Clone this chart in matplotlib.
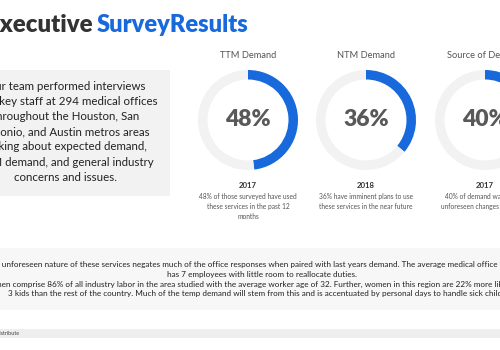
import matplotlib
matplotlib.use("Agg")
import matplotlib.pyplot as plt
from matplotlib.patches import Rectangle

plt.rcParams['font.family'] = ['Lato', 'DejaVu Sans']

# ---- data ----
title_dark = "Executive "
title_blue = "SurveyResults"
intro_lines = ["Our team performed interviews",
               "with key staff at 294 medical offices",
               "throughout the Houston, San",
               "Antonio, and Austin metros areas",
               "talking about expected demand,",
               "TTM demand, and general industry",
               "concerns and issues."]
donut_titles = ["TTM Demand", "NTM Demand", "Source of Demand"]
donut_values = [48, 36, 40]
donut_years = ["2017", "2018", "2017"]
donut_desc = [["48% of those surveyed have used", "these services in the past 12", "months"],
              ["36% have imminent plans to use", "these services in the near future"],
              ["40% of demand was due to", "unforeseen changes in staffing"]]
bottom_lines = ["The unforeseen nature of these services negates much of the office responses when paired with last years demand. The average medical office in this area",
                "has 7 employees with little room to reallocate duties.",
                "Women comprise 86% of all industry labor in the area studied with the average worker age of 32. Further, women in this region are 22% more likely to have",
                "3 kids than the rest of the country. Much of the temp demand will stem from this and is accentuated by personal days to handle sick children."]
footer = "Do Not Distribute"

W, H = 500, 350
fig = plt.figure(figsize=(5, 3.5), dpi=100)
fig.patch.set_facecolor('white')
ax = fig.add_axes([0, 0, 1, 1])
ax.set_xlim(0, W)
ax.set_ylim(H, 0)
ax.axis('off')

BLUE = '#1769dc'
GRAYBG = '#f2f2f2'

# title
t1 = ax.text(-14, 25, title_dark, fontsize=17.3, fontweight='heavy', color='#333333', va='center', ha='left')
fig.canvas.draw()
bb = t1.get_window_extent()
x_end = bb.x1
ax.text(x_end - 1, 25, title_blue, fontsize=17.0, fontweight='heavy', color=BLUE, va='center', ha='left')

# intro box
ax.add_patch(Rectangle((-5, 70), 175, 126, facecolor=GRAYBG, edgecolor='none'))
for i, line in enumerate(intro_lines):
    ax.text(66, 86 + i * 15.2, line, fontsize=8.3, color='#222222', ha='center', va='center')

# donuts
centers = [248, 366, 485]
cy = 120
R = 50
for cx, ttl, val, yr, desc in zip(centers, donut_titles, donut_values, donut_years, donut_desc):
    ax.text(cx, 55, ttl, fontsize=6.7, color='#555555', ha='center', va='center')
    dax = fig.add_axes([(cx - R) / W, (H - cy - R) / H, 2 * R / W, 2 * R / H])
    dax.pie([val, 100 - val], colors=[BLUE, GRAYBG], startangle=90, counterclock=False,
            radius=1.0, wedgeprops=dict(width=0.19, edgecolor='none'))
    dax.set_xlim(-1, 1)
    dax.set_ylim(-1, 1)
    dax.axis('off')
    ax.text(cx, cy, f"{val}%", fontsize=16.5, fontweight='heavy', color='#595959', ha='center', va='center')
    ax.text(cx, 186, yr, fontsize=5.6, fontweight='bold', color='#333333', ha='center', va='center')
    for j, d in enumerate(desc):
        ax.text(cx, 196.5 + j * 10, d, fontsize=4.8, color='#555555', ha='center', va='center')

# bottom box
ax.add_patch(Rectangle((-5, 248), W + 10, 62, facecolor='#f7f7f7', edgecolor='none'))
bys = [264, 274, 284, 293.5]
for y, line in zip(bys, bottom_lines):
    ax.text(262, y, line, fontsize=5.9, color='#222222', ha='center', va='center')

# footer strip
ax.add_patch(Rectangle((-5, 329), W + 10, 9, facecolor='#eeeeee', edgecolor='none'))
ax.text(-24, 333.5, footer, fontsize=4.0, color='#444444', ha='left', va='center')

fig.savefig('out.png', dpi=100, facecolor='white')
